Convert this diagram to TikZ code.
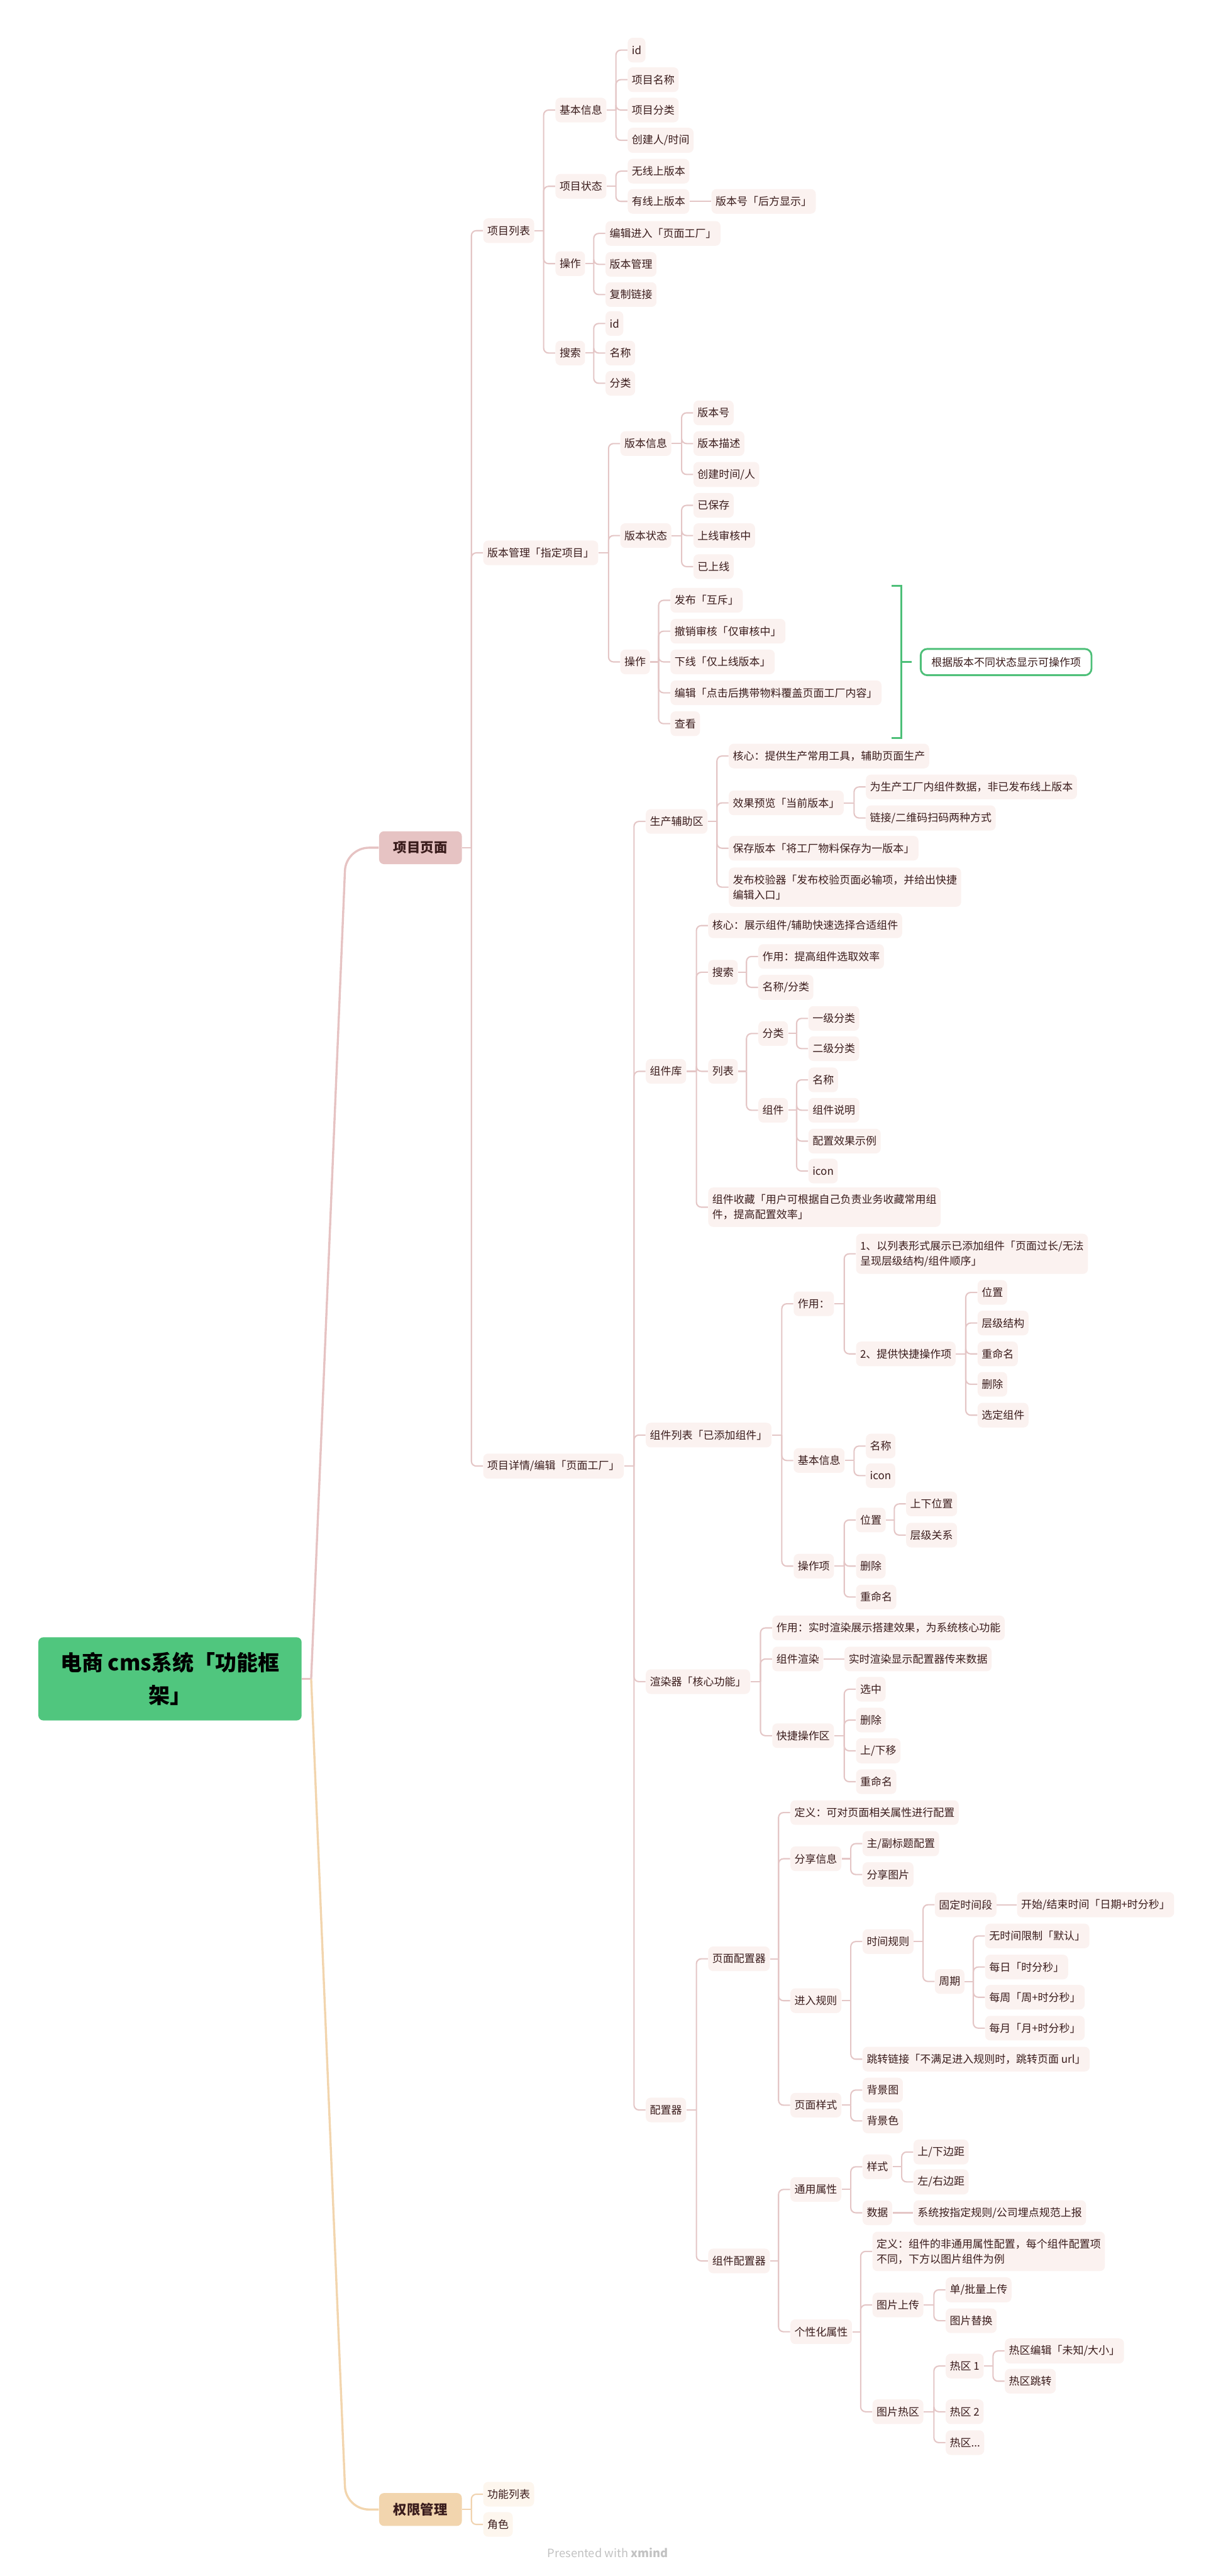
\documentclass[tikz,border=0pt]{standalone}
\usepackage{fontspec}
\newfontfamily\cjk{Noto Sans CJK SC}
\usetikzlibrary{calc}
\definecolor{rootgreen}{HTML}{50C67E}
\definecolor{lonepink}{HTML}{E6C3C3}
\definecolor{lonepeach}{HTML}{F2D5AE}
\definecolor{linec}{HTML}{E4C6C6}
\definecolor{peachline}{HTML}{F0D3B0}
\definecolor{nodefill}{HTML}{FBF2F0}
\definecolor{peachfill}{HTML}{FDF6EE}
\definecolor{txt}{HTML}{3A1C1C}
\definecolor{brkgreen}{HTML}{4DBF78}
\definecolor{footgray}{HTML}{C2C2C2}
\tikzset{
  nd/.style={draw=none, fill=nodefill, rounded corners=3pt, inner xsep=2.5pt, inner ysep=4.3pt,
    minimum height=15pt, anchor=west, align=left, text=txt,
    font=\cjk\fontsize{6.5}{9.2}\selectfont},
  pnd/.style={nd, fill=peachfill},
  lone/.style={draw=none, rounded corners=3pt, inner xsep=8.8pt, inner ysep=2pt, minimum height=20pt,
    anchor=west, text=txt, font=\cjk\bfseries\fontsize{8.2}{10}\selectfont},
  rootnode/.style={draw=none, fill=rootgreen, rounded corners=3pt, minimum width=160.3pt,
    minimum height=50.6pt, align=center, text=black, font=\cjk\bfseries\fontsize{13}{19.6}\selectfont},
  conn/.style={draw=linec, line width=0.8pt},
  rootline/.style={line width=1.3pt, rounded corners=14pt},
  brk/.style={draw=brkgreen, line width=1.1pt},
  summ/.style={draw=brkgreen, line width=1.1pt, fill=white, rounded corners=4pt, anchor=west,
    minimum height=16pt, inner xsep=6.5pt, text=txt, font=\cjk\fontsize{6.5}{9.2}\selectfont}
}
\newcommand\mmbranch[3]{%
  \coordinate (t-#1) at ($(#1.east -| #2.west)+(-7pt,0pt)$);
  \draw[conn] (#1.east) -- (t-#1);
  \foreach \kid in {#3} {\draw[conn, rounded corners=3pt] (t-#1) |- (\kid.west);}
}
\begin{document}
\begin{tikzpicture}[x=1pt,y=-1pt]
\useasboundingbox (0,0) rectangle (740,1568);
% root and main branches
\node[rootnode] (root) at (103.5,1021.9) {电商 cms系统「功能框\\架」};
\node[lone, fill=lonepink] (xm) at (230.6,516) {项目页面};
\node[lone, fill=lonepeach] (qx) at (230.6,1527.5) {权限管理};
\coordinate (rj) at ([xshift=5.6pt]root.east);
\draw[line width=1.3pt, draw=lonepink] (root.east) -- (rj);
\draw[rootline, draw=lonepink] (rj) -- ([xshift=-20pt]xm.west) -- (xm.west);
\draw[rootline, draw=lonepeach] (rj) -- ([xshift=-20pt]qx.west) -- (qx.west);

% 权限管理
\node[pnd] (gn) at (294,1518.2) {功能列表};
\node[pnd] (js) at (294,1536.6) {角色};
\begin{scope}[conn/.append style={draw=peachline}]
\mmbranch{qx}{gn}{gn,js}
\end{scope}

% level 2
\node[nd] (lb) at (294,140.4) {项目列表};
\node[nd] (bb) at (294,336.5) {版本管理「指定项目」};
\node[nd] (xq) at (294,892.4) {项目详情/编辑「页面工厂」};

% 项目列表
\node[nd] (jb) at (338,67) {基本信息};
\node[nd] (zt) at (338,113.4) {项目状态};
\node[nd] (cz) at (338,160.5) {操作};
\node[nd] (ss) at (338,214.9) {搜索};
\node[nd] (jb1) at (382,30.5) {id};
\node[nd] (jb2) at (382,48.5) {项目名称};
\node[nd] (jb3) at (382,67) {项目分类};
\node[nd] (jb4) at (382,85.4) {创建人/时间};
\node[nd] (zt1) at (382,104.2) {无线上版本};
\node[nd] (zt2) at (382,122.6) {有线上版本};
\node[nd] (zt2a) at (433,122.6) {版本号「后方显示」};
\node[nd] (cz1) at (368.5,142.1) {编辑进入「页面工厂」};
\node[nd] (cz2) at (368.5,160.9) {版本管理};
\node[nd] (cz3) at (368.5,179.3) {复制链接};
\node[nd] (ss1) at (368.5,196.9) {id};
\node[nd] (ss2) at (368.5,214.9) {名称};
\node[nd] (ss3) at (368.5,233.3) {分类};

% 版本管理
\node[nd] (bx) at (377.5,270.0) {版本信息};
\node[nd] (bz) at (377.5,326.0) {版本状态};
\node[nd] (bc) at (377.5,402.9) {操作};
\node[nd] (bx1) at (422,251.3) {版本号};
\node[nd] (bx2) at (422,270.0) {版本描述};
\node[nd] (bx3) at (422,288.8) {创建时间/人};
\node[nd] (bz1) at (422,307.6) {已保存};
\node[nd] (bz2) at (422,326.0) {上线审核中};
\node[nd] (bz3) at (422,344.9) {已上线};
\node[nd] (bc1) at (408,365.4) {发布「互斥」};
\node[nd] (bc2) at (408,384.2) {撤销审核「仅审核中」};
\node[nd] (bc3) at (408,402.9) {下线「仅上线版本」};
\node[nd] (bc4) at (408,421.7) {编辑「点击后携带物料覆盖页面工厂内容」};
\node[nd] (bc5) at (408,440.5) {查看};
\node[summ] (summ) at (560,403) {根据版本不同状态显示可操作项};
\coordinate (brA) at (543,356.6);
\coordinate (brB) at (548.6,356.6);
\coordinate (brC) at (548.6,449.3);
\coordinate (brD) at (543,449.3);
\coordinate (brM) at (548.6,403);
\draw[brk] (brA) -- (brB) -- (brC) -- (brD);
\draw[brk] (brM) -- ([xshift=-5pt]summ.west);

% 项目详情
\node[nd] (sc) at (393,500.0) {生产辅助区};
\node[nd] (zk) at (393,652.1) {组件库};
\node[nd] (zl) at (393,873.5) {组件列表「已添加组件」};
\node[nd] (xr) at (393,1023.6) {渲染器「核心功能」};
\node[nd] (pz) at (393,1284.3) {配置器};

\node[nd] (sc1) at (443.5,460.2) {核心：提供生产常用工具，辅助页面生产};
\node[nd] (sc2) at (443.5,488.7) {效果预览「当前版本」};
\node[nd] (sc3) at (443.5,516.3) {保存版本「将工厂物料保存为一版本」};
\node[nd] (sc4) at (443.5,540.0) {发布校验器「发布校验页面必输项，并给出快捷\\编辑入口」};
\node[nd] (sc2a) at (527,479.0) {为生产工厂内组件数据，非已发布线上版本};
\node[nd] (sc2b) at (527,497.9) {链接/二维码扫码两种方式};

\node[nd] (zk1) at (431,563.4) {核心：展示组件/辅助快速选择合适组件};
\node[nd] (zk2) at (431,591.8) {搜索};
\node[nd] (zk3) at (431,652.1) {列表};
\node[nd] (zk4) at (431,734.8) {组件收藏「用户可根据自己负责业务收藏常用组\\件，提高配置效率」};
\node[nd] (zk2a) at (461.5,582.2) {作用：提高组件选取效率};
\node[nd] (zk2b) at (461.5,601.0) {名称/分类};
\node[nd] (zk3a) at (461.5,629.1) {分类};
\node[nd] (zk3b) at (461.5,675.8) {组件};
\node[nd] (fl1) at (492,619.9) {一级分类};
\node[nd] (fl2) at (492,638.3) {二级分类};
\node[nd] (zj1) at (492,657.3) {名称};
\node[nd] (zj2) at (492,675.8) {组件说明};
\node[nd] (zj3) at (492,694.6) {配置效果示例};
\node[nd] (zj4) at (492,712.8) {icon};

\node[nd] (zl1) at (483,793.6) {作用：};
\node[nd] (zl2) at (483,889.0) {基本信息};
\node[nd] (zl3) at (483,953.3) {操作项};
\node[nd] (zl1a) at (521,763.2) {1、以列表形式展示已添加组件「页面过长/无法\\呈现层级结构/组件顺序」};
\node[nd] (zl1b) at (521,824.1) {2、提供快捷操作项};
\node[nd] (kj1) at (595,786.7) {位置};
\node[nd] (kj2) at (595,805.3) {层级结构};
\node[nd] (kj3) at (595,824.1) {重命名};
\node[nd] (kj4) at (595,842.6) {删除};
\node[nd] (kj5) at (595,861.4) {选定组件};
\node[nd] (zl2a) at (527,880.2) {名称};
\node[nd] (zl2b) at (527,898.2) {icon};
\node[nd] (cx1) at (521,925.2) {位置};
\node[nd] (cx2) at (521,953.3) {删除};
\node[nd] (cx3) at (521,972.1) {重命名};
\node[nd] (wz1) at (551.5,915.4) {上下位置};
\node[nd] (wz2) at (551.5,934.4) {层级关系};

\node[nd] (xr1) at (470,990.9) {作用：实时渲染展示搭建效果，为系统核心功能};
\node[nd] (xr2) at (470,1009.8) {组件渲染};
\node[nd] (xr3) at (470,1056.5) {快捷操作区};
\node[nd] (xr2a) at (514,1009.8) {实时渲染显示配置器传来数据};
\node[nd] (kq1) at (521,1028.2) {选中};
\node[nd] (kq2) at (521,1047.0) {删除};
\node[nd] (kq3) at (521,1065.7) {上/下移};
\node[nd] (kq4) at (521,1084.5) {重命名};

\node[nd] (ym) at (431,1192.3) {页面配置器};
\node[nd] (zp) at (431,1376.2) {组件配置器};
\node[nd] (ym1) at (481,1103.3) {定义：可对页面相关属性进行配置};
\node[nd] (ym2) at (481,1131.4) {分享信息};
\node[nd] (ym3) at (481,1217.8) {进入规则};
\node[nd] (ym4) at (481,1281.4) {页面样式};
\node[nd] (fx1) at (525,1122.2) {主/副标题配置};
\node[nd] (fx2) at (525,1141.0) {分享图片};
\node[nd] (jr1) at (525,1181.8) {时间规则};
\node[nd] (jr2) at (525,1253.4) {跳转链接「不满足进入规则时，跳转页面 url」};
\node[nd] (sj1) at (569,1159.4) {固定时间段};
\node[nd] (sj2) at (569,1206.1) {周期};
\node[nd] (sj1a) at (619,1159.4) {开始/结束时间「日期+时分秒」};
\node[nd] (zq1) at (599.6,1178.4) {无时间限制「默认」};
\node[nd] (zq2) at (599.6,1197.3) {每日「时分秒」};
\node[nd] (zq3) at (599.6,1215.7) {每周「周+时分秒」};
\node[nd] (zq4) at (599.6,1234.5) {每月「月+时分秒」};
\node[nd] (ys1) at (525,1272.2) {背景图};
\node[nd] (ys2) at (525,1291.0) {背景色};

\node[nd] (zp1) at (481,1332.7) {通用属性};
\node[nd] (zp2) at (481,1419.3) {个性化属性};
\node[nd] (ty1) at (525,1318.9) {样式};
\node[nd] (ty2) at (525,1346.9) {数据};
\node[nd] (yx1) at (556,1309.9) {上/下边距};
\node[nd] (yx2) at (556,1328.1) {左/右边距};
\node[nd] (ty2a) at (556,1346.9) {系统按指定规则/公司埋点规范上报};
\node[nd] (gx1) at (531,1370.4) {定义：组件的非通用属性配置，每个组件配置项\\不同，下方以图片组件为例};
\node[nd] (gx2) at (531,1403.0) {图片上传};
\node[nd] (gx3) at (531,1468.0) {图片热区};
\node[nd] (sca) at (575.6,1393.8) {单/批量上传};
\node[nd] (scb) at (575.6,1412.6) {图片替换};
\node[nd] (rq1) at (575.6,1440.2) {热区 1};
\node[nd] (rq2) at (575.6,1468.0) {热区 2};
\node[nd] (rq3) at (575.6,1486.8) {热区...};
\node[nd] (rq1a) at (611.6,1431.0) {热区编辑「未知/大小」};
\node[nd] (rq1b) at (611.6,1449.4) {热区跳转};

% connectors
\mmbranch{xm}{lb}{lb,bb,xq}
\mmbranch{lb}{jb}{jb,zt,cz,ss}
\mmbranch{jb}{jb1}{jb1,jb2,jb3,jb4}
\mmbranch{zt}{zt1}{zt1,zt2}
\draw[conn] (zt2.east) -- (zt2a.west);
\mmbranch{cz}{cz1}{cz1,cz2,cz3}
\mmbranch{ss}{ss1}{ss1,ss2,ss3}
\mmbranch{bb}{bx}{bx,bz,bc}
\mmbranch{bx}{bx1}{bx1,bx2,bx3}
\mmbranch{bz}{bz1}{bz1,bz2,bz3}
\mmbranch{bc}{bc1}{bc1,bc2,bc3,bc4,bc5}
\mmbranch{xq}{sc}{sc,zk,zl,xr,pz}
\mmbranch{sc}{sc1}{sc1,sc2,sc3,sc4}
\mmbranch{sc2}{sc2a}{sc2a,sc2b}
\mmbranch{zk}{zk1}{zk1,zk2,zk3,zk4}
\mmbranch{zk2}{zk2a}{zk2a,zk2b}
\mmbranch{zk3}{zk3a}{zk3a,zk3b}
\mmbranch{zk3a}{fl1}{fl1,fl2}
\mmbranch{zk3b}{zj1}{zj1,zj2,zj3,zj4}
\mmbranch{zl}{zl1}{zl1,zl2,zl3}
\mmbranch{zl1}{zl1a}{zl1a,zl1b}
\mmbranch{zl1b}{kj1}{kj1,kj2,kj3,kj4,kj5}
\mmbranch{zl2}{zl2a}{zl2a,zl2b}
\mmbranch{zl3}{cx1}{cx1,cx2,cx3}
\mmbranch{cx1}{wz1}{wz1,wz2}
\mmbranch{xr}{xr1}{xr1,xr2,xr3}
\draw[conn] (xr2.east) -- (xr2a.west);
\mmbranch{xr3}{kq1}{kq1,kq2,kq3,kq4}
\mmbranch{pz}{ym}{ym,zp}
\mmbranch{ym}{ym1}{ym1,ym2,ym3,ym4}
\mmbranch{ym2}{fx1}{fx1,fx2}
\mmbranch{ym3}{jr1}{jr1,jr2}
\mmbranch{jr1}{sj1}{sj1,sj2}
\draw[conn] (sj1.east) -- (sj1a.west);
\mmbranch{sj2}{zq1}{zq1,zq2,zq3,zq4}
\mmbranch{ym4}{ys1}{ys1,ys2}
\mmbranch{zp}{zp1}{zp1,zp2}
\mmbranch{zp1}{ty1}{ty1,ty2}
\mmbranch{ty1}{yx1}{yx1,yx2}
\draw[conn] (ty2.east) -- (ty2a.west);
\mmbranch{zp2}{gx1}{gx1,gx2,gx3}
\mmbranch{gx2}{sca}{sca,scb}
\mmbranch{gx3}{rq1}{rq1,rq2,rq3}
\mmbranch{rq1}{rq1a}{rq1a,rq1b}

% footer
\node[text=footgray, font=\cjk\fontsize{7}{8}\selectfont] (foot) at (370,1554) {Presented with \textbf{xmind}};
\end{tikzpicture}
\end{document}
